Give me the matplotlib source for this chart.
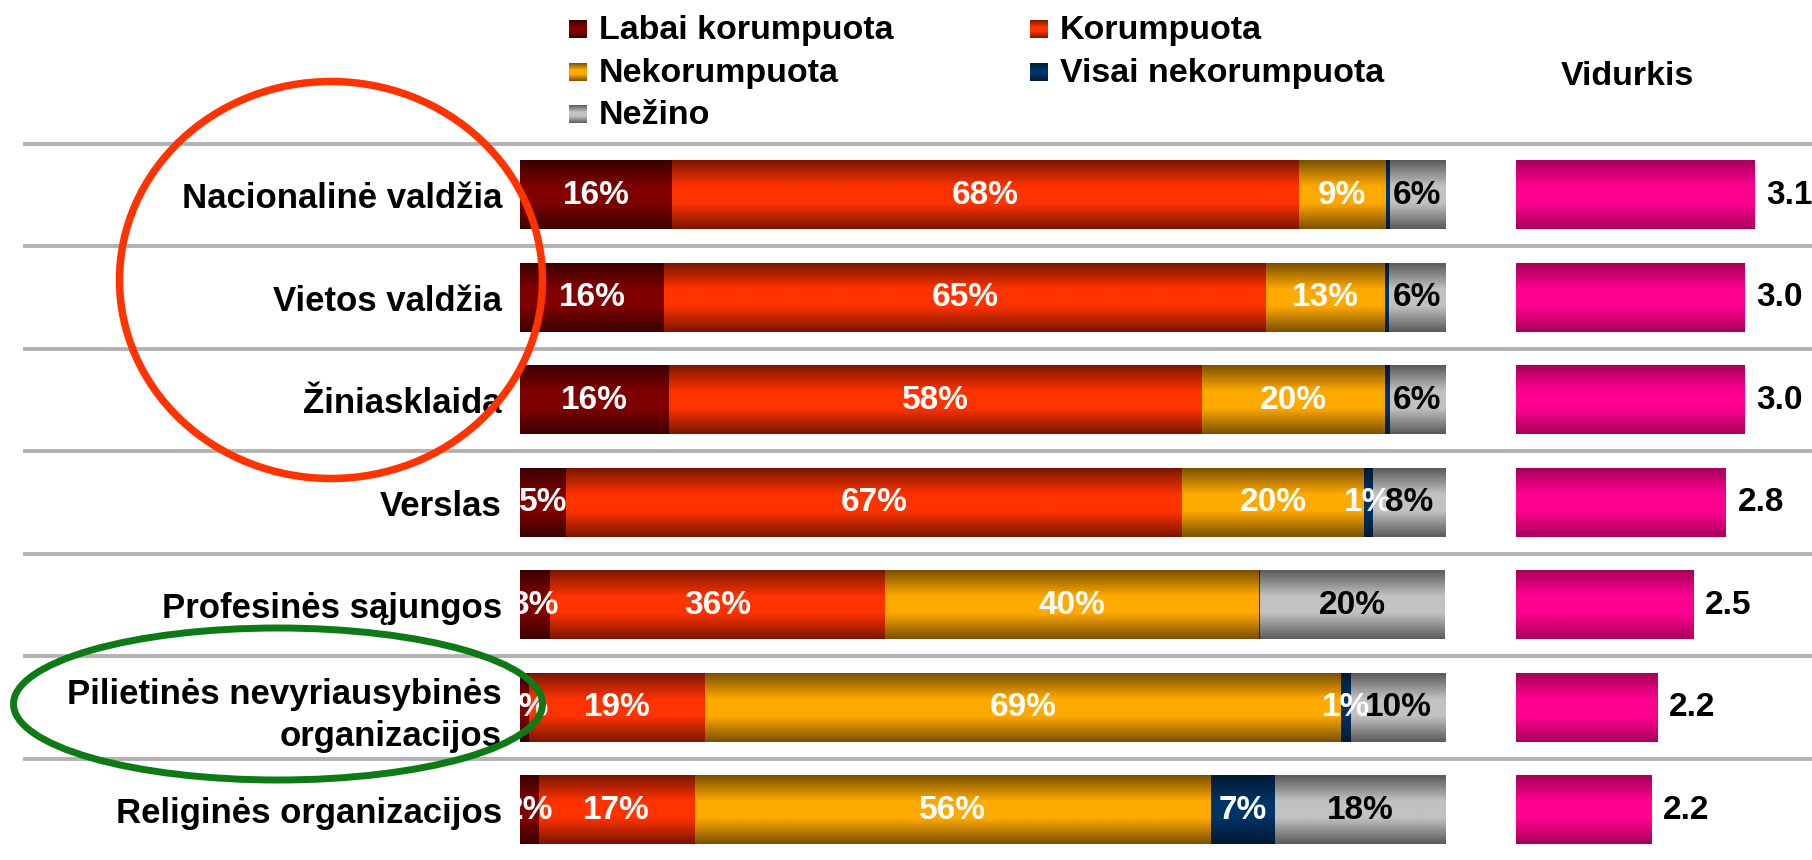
import numpy as np
import matplotlib
matplotlib.use("Agg")
import matplotlib.pyplot as plt
from matplotlib.colors import LinearSegmentedColormap
from matplotlib.patches import Ellipse

plt.rcParams['font.family'] = ['Liberation Sans', 'DejaVu Sans']
plt.rcParams['font.weight'] = 'bold'

# ---------------- data ----------------
categories = ["Nacionalinė valdžia", "Vietos valdžia", "Žiniasklaida", "Verslas",
              "Profesinės sąjungos", "Pilietinės nevyriausybinės\norganizacijos",
              "Religinės organizacijos"]
series_names = ["Labai korumpuota", "Korumpuota", "Nekorumpuota",
                "Visai nekorumpuota", "Nežino"]
labai = [16.4, 15.6, 16.1, 5.0, 3.2, 1.0, 2.0]
korumpuota = [67.8, 65.0, 57.6, 66.6, 36.3, 19.0, 16.9]
nekorumpuota = [9.4, 12.9, 19.8, 19.6, 40.4, 68.8, 55.8]
visai_nekorumpuota = [0.4, 0.4, 0.5, 1.0, 0.1, 1.0, 6.9]
nezino = [6.0, 6.2, 6.0, 7.8, 20.0, 10.2, 18.4]
vidurkis = [3.06, 2.97, 2.97, 2.81, 2.53, 2.22, 2.17]
mean_title = "Vidurkis"

series = [labai, korumpuota, nekorumpuota, visai_nekorumpuota, nezino]
# (edge colour, centre colour) for the cylinder-like gradient
series_colors = [("#3a0000", "#800000"), ("#7a1500", "#ff3300"),
                 ("#7a5000", "#ffaa00"), ("#001a33", "#003366"),
                 ("#5a5a5a", "#c2c2c2")]
label_colors = ["white", "white", "white", "white", "black"]
mean_color = ("#a8005a", "#ff0090")

# ---------------- figure ----------------
W, H = 1812, 860
fig = plt.figure(figsize=(W / 100, H / 100), dpi=100)

row_h = 102.5
first_center = 195.0
n = len(categories)
top_px = first_center - row_h / 2
bot_px = top_px + row_h * n
ax_bottom = (H - bot_px) / H
ax_height = (bot_px - top_px) / H

def grad_cmap(edge, center):
    return LinearSegmentedColormap.from_list(
        "g", [(0.0, edge), (0.38, center), (0.62, center), (1.0, edge)])

grad = np.linspace(0, 1, 256).reshape(-1, 1)

def fill_patch(ax, patch, cmap, z=2):
    x, y = patch.get_x(), patch.get_y()
    w, h = patch.get_width(), patch.get_height()
    if w <= 0:
        return
    ax.imshow(grad, cmap=cmap, extent=[x, x + w, y + h, y], aspect="auto",
              interpolation="bilinear", zorder=z)

# separator lines
ax_lines = fig.add_axes([25 / W, ax_bottom, 1 - 25 / W, ax_height], zorder=1)
ax_lines.set_ylim(n - 0.5, -0.5)
ax_lines.set_xlim(0, 1)
ax_lines.axis("off")
for k in range(n):
    ax_lines.axhline(k - 0.5, color="#b2b2b2", lw=2.8, clip_on=False)

# main stacked bars
ax = fig.add_axes([520 / W, ax_bottom, 925 / W, ax_height], zorder=2)
ax.patch.set_visible(False)
ypos = np.arange(n)
bar_h = 0.67
left = np.zeros(n)
for vals, (edge, center), lc in zip(series, series_colors, label_colors):
    vals = np.asarray(vals, dtype=float)
    bars = ax.barh(ypos, vals, left=left, height=bar_h, color="none", linewidth=0)
    cmap = grad_cmap(edge, center)
    for p in bars.patches:
        fill_patch(ax, p, cmap)
    for i, (v, l) in enumerate(zip(vals, left)):
        if v >= 0.8:
            ax.text(l + v / 2, i, f"{round(v):d}%", ha="center", va="center",
                    color=lc, fontsize=24, fontweight="bold", zorder=4,
                    clip_on=True)
    left = left + vals
ax.set_xlim(0, 100)
ax.set_ylim(n - 0.5, -0.5)
ax.set_yticks(ypos)
ax.set_yticklabels(categories, fontsize=25, fontweight="bold", ha="right",
                   multialignment="right", linespacing=1.35)
ax.tick_params(axis="y", length=0, pad=13)
ax.set_xticks([])
for s in ax.spines.values():
    s.set_visible(False)

# mean bars
ax2 = fig.add_axes([1516 / W, ax_bottom, (W - 1516) / W, ax_height], zorder=2)
ax2.patch.set_visible(False)
mbars = ax2.barh(ypos, np.asarray(vidurkis) - 1, left=1, height=bar_h,
                 color="none", linewidth=0)
mcmap = grad_cmap(*mean_color)
for p in mbars.patches:
    fill_patch(ax2, p, mcmap)
for i, v in enumerate(vidurkis):
    ax2.text(v + 0.1, i, f"{v:.1f}", ha="left", va="center", fontsize=24,
             fontweight="bold", color="black")
ax2.set_xlim(1, 1 + (W - 1516) / 116.0)
ax2.set_ylim(n - 0.5, -0.5)
ax2.axis("off")

# overlay: legend, header, ellipses (pixel coordinates)
ov = fig.add_axes([0, 0, 1, 1], zorder=5)
ov.set_xlim(0, W)
ov.set_ylim(H, 0)
ov.axis("off")

leg_pos = [(569, 29), (1030, 29), (569, 72), (1030, 72), (569, 114)]
sq = 18
for name, (edge, center), (lx, ly) in zip(series_names, series_colors, leg_pos):
    ov.imshow(grad, cmap=grad_cmap(edge, center),
              extent=[lx, lx + sq, ly + sq / 2, ly - sq / 2], aspect="auto",
              interpolation="nearest")
    ov.text(lx + 30, ly + 10, name, ha="left", va="baseline", fontsize=24.5,
            fontweight="bold", color="black")

ov.text(1627, 85, mean_title, ha="center", va="baseline", fontsize=24.5,
        fontweight="bold", color="black")

ov.add_patch(Ellipse((331, 280), 423, 397, fill=False, ec="#ff3300", lw=5.4))
ov.add_patch(Ellipse((278, 704), 529, 152, fill=False, ec="#0e7a16", lw=5.0))
ov.set_xlim(0, W)
ov.set_ylim(H, 0)

fig.savefig("out.png", dpi=100)
